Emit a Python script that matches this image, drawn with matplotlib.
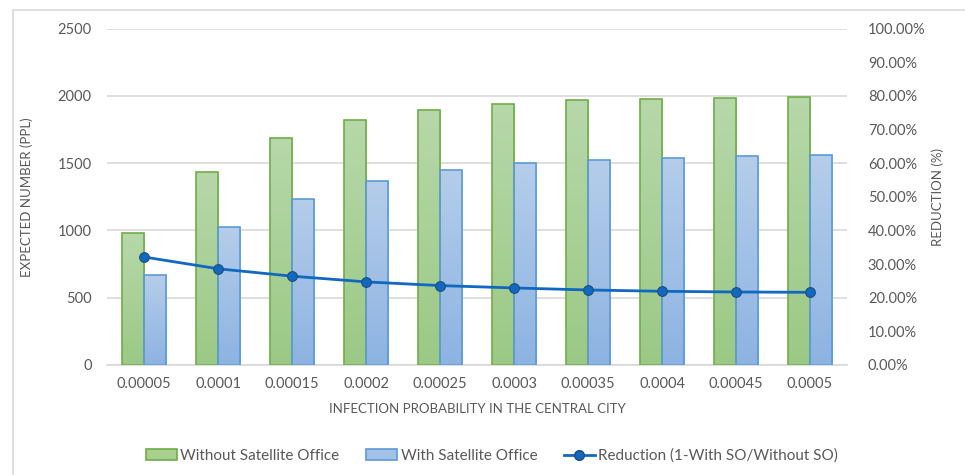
import numpy as np
import matplotlib
matplotlib.use('Agg')
import matplotlib.pyplot as plt
from matplotlib.patches import Rectangle
from matplotlib.lines import Line2D
from matplotlib.colors import LinearSegmentedColormap
import matplotlib.ticker as ticker

plt.rcParams['font.family'] = ['Lato', 'DejaVu Sans']

categories = ['0.00005', '0.0001', '0.00015', '0.0002', '0.00025',
              '0.0003', '0.00035', '0.0004', '0.00045', '0.0005']
without_so = [979, 1436, 1686, 1823, 1897, 1941, 1966, 1978, 1986, 1993]
with_so = [668, 1026, 1236, 1367, 1449, 1498, 1523, 1540, 1553, 1560]
reduction = [32.1, 28.6, 26.4, 24.7, 23.6, 22.9, 22.3, 21.9, 21.7, 21.6]

GREEN_EDGE = '#70ad47'
BLUE_EDGE = '#5b9bd5'
LINE_COLOR = '#1068c1'
TEXT = '#595959'
GRID = '#d9d9d9'

green_cmap = LinearSegmentedColormap.from_list('g', ['#9bc985', '#b7d8aa'])
blue_cmap = LinearSegmentedColormap.from_list('b', ['#8db3e2', '#b5cdea'])
grad = np.linspace(0, 1, 256).reshape(-1, 1)


def gradient_bars(ax, xs, heights, width, cmap, edge):
    for x, h in zip(xs, heights):
        rect = Rectangle((x, 0), width, h, facecolor='none', edgecolor=edge,
                         linewidth=1.2, zorder=3)
        ax.add_patch(rect)
        im = ax.imshow(grad, cmap=cmap, aspect='auto', origin='lower',
                       extent=(x, x + width, 0, h), zorder=2)
        im.set_clip_path(rect)


fig = plt.figure(figsize=(9.65, 4.75), dpi=100)
fig.patch.set_facecolor('white')

# outer chart frame
fig.add_artist(Rectangle((13 / 965, -0.1), 1.2, 1 - 10 / 475 + 0.1,
                         transform=fig.transFigure, facecolor='none',
                         edgecolor='#d9d9d9', linewidth=1.2))

ax = fig.add_axes([107 / 965, 1 - 365 / 475, 740 / 965, 336.5 / 475])
idx = np.arange(len(categories))
bw = 0.3
gradient_bars(ax, idx - bw, without_so, bw, green_cmap, GREEN_EDGE)
gradient_bars(ax, idx, with_so, bw, blue_cmap, BLUE_EDGE)

ax.set_xlim(-0.5, len(categories) - 0.5)
ax.set_ylim(0, 2500)
ax.yaxis.set_major_locator(ticker.MultipleLocator(500))
ax.set_xticks(idx)
ax.set_xticklabels(categories)
ax.grid(axis='y', color=GRID, linewidth=1.2, zorder=0)
ax.set_axisbelow(True)
for s in ['top', 'right', 'left']:
    ax.spines[s].set_visible(False)
ax.spines['bottom'].set_color(GRID)
ax.spines['bottom'].set_linewidth(1.2)
ax.tick_params(length=0, colors=TEXT, labelsize=10.5)
ax.tick_params(axis='x', pad=9)
ax.tick_params(axis='y', pad=11)
ax.set_xlabel('INFECTION PROBABILITY IN THE CENTRAL CITY', color=TEXT,
              fontsize=9.5, labelpad=8)
ax.set_ylabel('EXPECTED NUMBER (PPL)', color=TEXT, fontsize=9.5, labelpad=18)

ax2 = ax.twinx()
ax2.plot(idx, reduction, color=LINE_COLOR, linewidth=2, marker='o',
         markersize=7, markerfacecolor=LINE_COLOR, markeredgecolor='#1f4e79',
         markeredgewidth=0.8, zorder=5)
ax2.set_ylim(0, 100)
ax2.yaxis.set_major_locator(ticker.MultipleLocator(10))
ax2.yaxis.set_major_formatter(ticker.FuncFormatter(lambda v, p: f'{v:.2f}%'))
for s in ax2.spines.values():
    s.set_visible(False)
ax2.tick_params(length=0, colors=TEXT, labelsize=10.5, pad=15)
ax2.set_ylabel('REDUCTION (%)', color=TEXT, fontsize=9.5, labelpad=4)

handles = [
    Rectangle((0, 0), 1, 1, facecolor='#a9d08e', edgecolor=GREEN_EDGE, linewidth=1.2),
    Rectangle((0, 0), 1, 1, facecolor='#a3c2e8', edgecolor=BLUE_EDGE, linewidth=1.2),
    Line2D([], [], color=LINE_COLOR, linewidth=2, marker='o', markersize=7,
           markerfacecolor=LINE_COLOR, markeredgecolor='#1f4e79'),
]
labels = ['Without Satellite Office', 'With Satellite Office',
          'Reduction (1-With SO/Without SO)']
leg = fig.legend(handles, labels, loc='center', bbox_to_anchor=(0.51, 1 - 456 / 475),
                 ncol=3, frameon=False, fontsize=11, columnspacing=1.75,
                 handlelength=2.0, handletextpad=0.25)
for t in leg.get_texts():
    t.set_color(TEXT)

fig.savefig('out.png', dpi=100, facecolor='white')
